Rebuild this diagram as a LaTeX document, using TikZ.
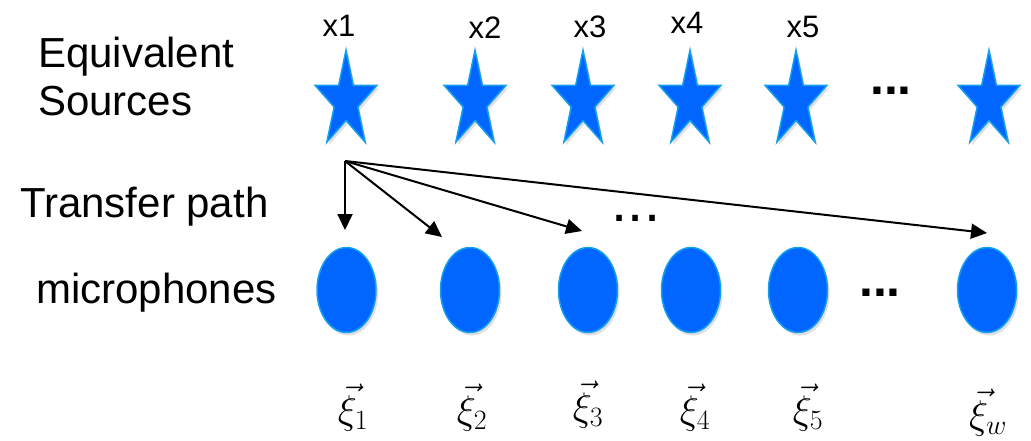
\RequirePackage{fix-cm}
\documentclass[tikz,border=0pt]{standalone}
\usepackage{fontspec}
\setmainfont{Liberation Sans}
\usetikzlibrary{arrows.meta,shapes.geometric,shadows}
\definecolor{srcblue}{RGB}{0,102,255}
\definecolor{rimblue}{RGB}{20,160,235}
\tikzset{
  lbl/.style={anchor=base west,inner sep=0pt,font=\fontsize{42}{48}\selectfont},
  xlbl/.style={anchor=base,inner sep=0pt,font=\fontsize{31}{36}\selectfont},
  bigdots/.style={anchor=base,inner sep=0pt,font=\fontsize{50}{60}\selectfont\bfseries},
  thindots/.style={anchor=base,inner sep=0pt,font=\fontsize{58}{66}\selectfont},
  sym/.style={anchor=base,inner sep=0pt,font=\fontsize{40}{46}\selectfont},
  starsty/.style={fill=srcblue,draw=rimblue,line width=1.5pt,line join=miter,
    drop shadow={opacity=0.25,shadow xshift=2pt,shadow yshift=-3pt}},
  mic/.style={ellipse,fill=srcblue,draw=rimblue,line width=1.5pt,inner sep=0pt,
    minimum width=59pt,minimum height=85pt,
    drop shadow={opacity=0.25,shadow xshift=2pt,shadow yshift=-3pt}},
  tpath/.style={line width=2pt,-{Triangle[length=16pt,width=15pt]}}
}
\begin{document}
\begin{tikzpicture}[x=1pt,y=-1pt]
\useasboundingbox (0,0) rectangle (1031,440);
% left labels
\node[lbl] (eq1) at (38,67) {Equivalent};
\node[lbl] (eq2) at (38,115) {Sources};
\node[lbl] (tp) at (20,217) {Transfer path};
\node[lbl] (mp) at (36,303) {microphones};
% source labels
\node[xlbl] (x1) at (339,36) {x1};
\node[xlbl] (x2) at (485,38) {x2};
\node[xlbl] (x3) at (590,37) {x3};
\node[xlbl] (x4) at (687,33) {x4};
\node[xlbl] (x5) at (803,37) {x5};
% stars
\foreach \n/\cx in {1/346,2/475,3/583,4/690,5/796,6/989}{
  \begin{scope}[shift={(\cx,101)},x=32.6pt,y=50.9pt]
    \coordinate (s\n) at (0,0);
    \path[starsty] (90:1) -- (126:0.382) -- (162:1) -- (198:0.382) -- (234:1)
      -- (270:0.382) -- (306:1) -- (342:0.382) -- (18:1) -- (54:0.382) -- cycle;
  \end{scope}
}
\node[bigdots] (sdots) at (891,94) {...};
% microphones
\node[mic] (m1) at (346.5,290) {};
\node[mic] (m2) at (470,290) {};
\node[mic] (m3) at (588,290) {};
\node[mic] (m4) at (691,290) {};
\node[mic] (m5) at (798,290) {};
\node[mic] (m6) at (987,290) {};
\node[bigdots] (mdots) at (880,296) {...};
% transfer paths
\coordinate (o) at (345,161);
\coordinate (t1) at (345,230);
\coordinate (t2) at (442,237);
\coordinate (t3) at (582,231);
\coordinate (t4) at (987,233);
\draw[tpath] (o) -- (t1);
\draw[tpath] (o) -- (t2);
\draw[tpath] (o) -- (t3);
\draw[tpath] (o) -- (t4);
\node[thindots] (pdots) at (636,221) {...};
% microphone position labels
\node[sym] (xi1) at (353,423) {$\vec{\xi}_1$};
\node[sym] (xi2) at (472,423) {$\vec{\xi}_2$};
\node[sym] (xi3) at (588,420) {$\vec{\xi}_3$};
\node[sym] (xi4) at (695,423) {$\vec{\xi}_4$};
\node[sym] (xi5) at (808,423) {$\vec{\xi}_5$};
\node[sym] (xiw) at (988,428) {$\vec{\xi}_w$};
\end{tikzpicture}
\end{document}
